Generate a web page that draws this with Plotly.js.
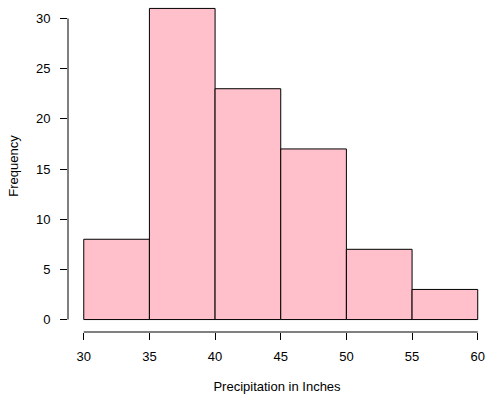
<!DOCTYPE html>
<html>
<head>
<meta charset="utf-8">
<script src="https://cdn.plot.ly/plotly-3.0.1.min.js"></script>
<style>html,body{margin:0;padding:0;background:#fff;}#chart{width:486px;height:399px;}</style>
</head>
<body>
<div id="chart"></div>
<script>
// Histogram of precipitation (bin edges and counts)
const binEdges = [30, 35, 40, 45, 50, 55, 60];
const counts = [8, 31, 23, 17, 7, 3];
const xTickVals = [30, 35, 40, 45, 50, 55, 60];
const yTickVals = [0, 5, 10, 15, 20, 25, 30];
const xLabel = "Precipitation in Inches";
const yLabel = "Frequency";

const mids = counts.map((_, i) => (binEdges[i] + binEdges[i + 1]) / 2);
const widths = counts.map((_, i) => binEdges[i + 1] - binEdges[i]);

const font = {family: '"Liberation Sans", Arial, Helvetica, sans-serif', size: 13, color: '#000'};

const trace = {
  type: 'bar',
  x: mids,
  y: counts,
  width: widths,
  marker: {color: '#FFC0CB', line: {color: '#000', width: 1}},
  hoverinfo: 'x+y'
};

const xmin = binEdges[0], xmax = binEdges[binEdges.length - 1];
const ymax = yTickVals[yTickVals.length - 1];

const layout = {
  width: 486, height: 399,
  margin: {l: 68, r: 0, t: 0, b: 67},
  paper_bgcolor: '#fff', plot_bgcolor: '#fff',
  font: font,
  showlegend: false,
  bargap: 0,
  xaxis: {
    range: [28.8, 60.63],
    tickvals: xTickVals,
    ticktext: xTickVals.map(String),
    ticks: 'outside', ticklen: 7, tickwidth: 1, tickcolor: '#000',
    showline: false, showgrid: false, zeroline: false,
    ticklabelstandoff: 5,
    title: {text: xLabel, font: font, standoff: 19}
  },
  yaxis: {
    range: [-1.24, 31.84],
    tickvals: yTickVals,
    ticktext: yTickVals.map(String),
    ticks: 'outside', ticklen: 7, tickwidth: 1, tickcolor: '#000',
    showline: false, showgrid: false, zeroline: false,
    ticklabelstandoff: 7,
    title: {text: yLabel, font: font, standoff: 14}
  },
  shapes: [
    {type: 'line', xref: 'paper', yref: 'y', x0: 0, x1: 0, y0: 0, y1: ymax, line: {color: '#000', width: 1}},
    {type: 'line', xref: 'x', yref: 'paper', x0: xmin, x1: xmax, y0: 0, y1: 0, line: {color: '#000', width: 1}}
  ]
};

Plotly.newPlot('chart', [trace], layout, {displayModeBar: false, staticPlot: true});
</script>
</body>
</html>
